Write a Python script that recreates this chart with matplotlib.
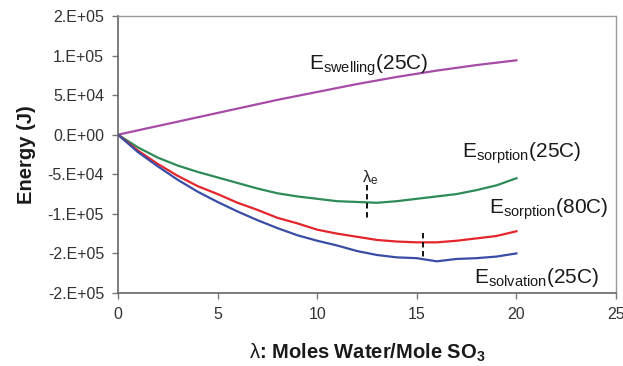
import matplotlib
matplotlib.use("Agg")
import matplotlib.pyplot as plt
from matplotlib.ticker import FuncFormatter

plt.rcParams['font.family'] = ['Liberation Sans', 'DejaVu Sans']
plt.rcParams['mathtext.fontset'] = 'custom'
plt.rcParams['mathtext.rm'] = 'Liberation Sans'
plt.rcParams['mathtext.it'] = 'Liberation Sans'
plt.rcParams['mathtext.bf'] = 'Liberation Sans:bold'

# ---- data ----
lam = list(range(0, 21))
e_swelling = [0, 5.5e3, 1.1e4, 1.65e4, 2.2e4, 2.75e4, 3.3e4, 3.85e4, 4.4e4, 4.9e4, 5.4e4,
              5.9e4, 6.4e4, 6.85e4, 7.3e4, 7.7e4, 8.1e4, 8.45e4, 8.8e4, 9.1e4, 9.4e4]
e_sorp_25 = [0, -1.6e4, -2.9e4, -3.9e4, -4.7e4, -5.4e4, -6.1e4, -6.8e4, -7.4e4, -7.8e4, -8.1e4,
             -8.4e4, -8.5e4, -8.6e4, -8.4e4, -8.1e4, -7.8e4, -7.5e4, -7.0e4, -6.4e4, -5.5e4]
e_sorp_80 = [0, -2.0e4, -3.7e4, -5.2e4, -6.5e4, -7.5e4, -8.6e4, -9.5e4, -1.05e5, -1.12e5, -1.20e5,
             -1.25e5, -1.29e5, -1.33e5, -1.35e5, -1.36e5, -1.36e5, -1.34e5, -1.31e5, -1.28e5, -1.22e5]
e_solv_25 = [0, -2.2e4, -4.0e4, -5.7e4, -7.2e4, -8.5e4, -9.7e4, -1.08e5, -1.18e5, -1.27e5, -1.34e5,
             -1.40e5, -1.47e5, -1.52e5, -1.55e5, -1.56e5, -1.60e5, -1.57e5, -1.56e5, -1.54e5, -1.50e5]

lam_e_25 = 12.5
lam_e_80 = 15.3

fig = plt.figure(figsize=(6.23, 3.66), dpi=100)
ax = fig.add_axes([0.1894, 0.1995, 0.7994, 0.7568])

ax.plot(lam, e_swelling, color='#A64CA6', lw=1.6)
ax.plot(lam, e_sorp_25, color='#2E8B57', lw=1.6)
ax.plot(lam, e_sorp_80, color='#E4262C', lw=1.6)
ax.plot(lam, e_solv_25, color='#3A4DA6', lw=1.6)

# lambda_e markers
ax.plot([lam_e_25, lam_e_25], [-6.3e4, -1.05e5], color='black', lw=1.3, ls=(0, (3, 2)))
ax.plot([lam_e_80, lam_e_80], [-1.24e5, -1.54e5], color='black', lw=1.3, ls=(0, (3, 2)))
ax.text(12.25, -5.4e4, r'$\lambda_{\mathrm{e}}$', fontsize=12, color='#222222', ha='left', va='center')

# curve labels
lab_kw = dict(fontsize=15, color='#1a1a1a', ha='left', va='center')
ax.text(9.6, 8.8e4, r'E$_{\mathrm{swelling}}$(25C)', **lab_kw)
ax.text(17.25, -2.3e4, r'E$_{\mathrm{sorption}}$(25C)', **lab_kw)
ax.text(18.6, -9.4e4, r'E$_{\mathrm{sorption}}$(80C)', **lab_kw)
ax.text(17.85, -1.80e5, r'E$_{\mathrm{solvation}}$(25C)', **lab_kw)

ax.set_xlim(0, 25)
ax.set_ylim(-2e5, 1.5e5)
ax.set_xticks([0, 5, 10, 15, 20, 25])
ax.set_yticks([-2e5, -1.5e5, -1e5, -5e4, 0, 5e4, 1e5, 1.5e5])
ax.yaxis.set_major_formatter(FuncFormatter(lambda v, p: '%#.0E' % v))

ax.tick_params(axis='both', direction='out', length=4, width=1, colors='#777777',
               labelcolor='#333333', labelsize=11.5, pad=6)
for s in ['top', 'right']:
    ax.spines[s].set_color('#9a9a9a')
    ax.spines[s].set_linewidth(1.0)
for s in ['left', 'bottom']:
    ax.spines[s].set_color('#666666')
    ax.spines[s].set_linewidth(1.2)

ax.set_ylabel('Energy (J)', fontsize=14.5, fontweight='bold', color='#1a1a1a', labelpad=8)
ax.set_xlabel(r'$\lambda$: Moles Water/Mole SO$_{\mathbf{3}}$', fontsize=14.5, fontweight='bold',
              color='#1a1a1a', labelpad=14)

fig.savefig('out.png', dpi=100)
